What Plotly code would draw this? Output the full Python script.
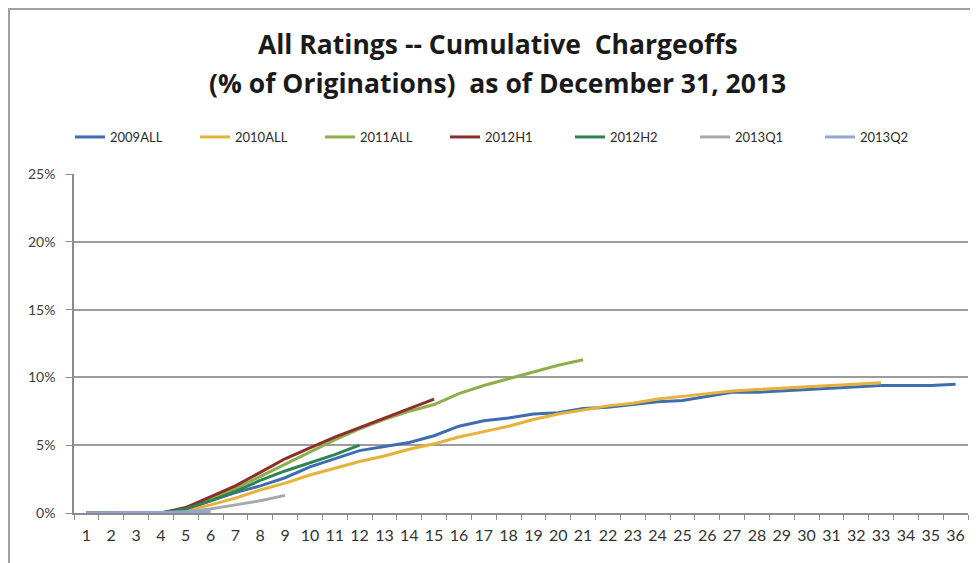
import plotly.graph_objects as go

months = [str(i) for i in range(1, 37)]

s2009ALL = [0, 0, 0, 0, 0.3, 0.9, 1.5, 2.0, 2.6, 3.4, 4.0, 4.6, 4.9, 5.2, 5.7, 6.4, 6.8, 7.0, 7.3, 7.4,
            7.7, 7.8, 8.0, 8.2, 8.3, 8.6, 8.9, 8.9, 9.0, 9.1, 9.2, 9.3, 9.4, 9.4, 9.4, 9.5]
s2010ALL = [0, 0, 0, 0, 0.2, 0.6, 1.1, 1.7, 2.2, 2.8, 3.3, 3.8, 4.2, 4.7, 5.1, 5.6, 6.0, 6.4, 6.9, 7.3,
            7.6, 7.9, 8.1, 8.4, 8.6, 8.8, 9.0, 9.1, 9.2, 9.3, 9.4, 9.5, 9.6]
s2011ALL = [0, 0, 0, 0, 0.3, 1.0, 1.8, 2.7, 3.6, 4.5, 5.4, 6.2, 6.9, 7.5, 8.0, 8.8, 9.4, 9.9, 10.4, 10.9, 11.3]
s2012H1 = [0, 0, 0, 0, 0.4, 1.2, 2.0, 3.0, 4.0, 4.8, 5.6, 6.3, 7.0, 7.7, 8.4]
s2012H2 = [0, 0, 0, 0, 0.3, 0.9, 1.6, 2.4, 3.1, 3.7, 4.3, 5.0]
s2013Q1 = [0, 0, 0, 0, 0.1, 0.3, 0.6, 0.9, 1.3]
s2013Q2 = [0, 0, 0, 0, 0.05, 0.1]

series = [
    ("2009ALL", s2009ALL, "#3F6DAE"),
    ("2010ALL", s2010ALL, "#E8B23A"),
    ("2011ALL", s2011ALL, "#8EAE4E"),
    ("2012H1", s2012H1, "#8C2E2A"),
    ("2012H2", s2012H2, "#2E8352"),
    ("2013Q1", s2013Q1, "#A8A8A8"),
    ("2013Q2", s2013Q2, "#8FA6D6"),
]

fig = go.Figure()
for name, vals, color in series:
    fig.add_trace(go.Scatter(
        x=months[:len(vals)], y=[v / 100 for v in vals], name=name, mode="lines",
        line=dict(color=color, width=3),
    ))

font_family = "Lato, 'Open Sans', sans-serif"
title_family = "'Open Sans', Lato, sans-serif"

L, R, T, B = 66, 18, 166, 58
PW, PH = 978 - L - R, 563 - T - B

fig.update_layout(
    width=978, height=563,
    margin=dict(l=L, r=R, t=T, b=B),
    paper_bgcolor="white", plot_bgcolor="white",
    font=dict(family=font_family, color="#404040"),
    showlegend=True,
    legend=dict(orientation="h", x=(62 - L) / PW, xanchor="left", y=1 + (T - 129) / PH, yanchor="middle",
                font=dict(size=13, color="#2b2b2b", family=font_family),
                entrywidth=80, entrywidthmode="pixels", itemwidth=30,
                bgcolor="rgba(0,0,0,0)"),
    xaxis=dict(type="category", categoryorder="array", categoryarray=months,
               range=[-0.5, 35.5], tickson="boundaries", ticks="outside", ticklen=5,
               tickcolor="#8c8c8c", showline=True, linecolor="#8c8c8c", linewidth=1.5,
               showgrid=False, tickangle=0, ticklabelstandoff=7,
               tickfont=dict(size=16, color="#333333"), fixedrange=True),
    yaxis=dict(range=[0, 0.25], tickvals=[0, 0.05, 0.10, 0.15, 0.20, 0.25],
               tickformat=".0%", ticks="outside", ticklen=6, tickcolor="#8c8c8c",
               showline=True, linecolor="#8c8c8c", linewidth=1.5,
               showgrid=True, gridcolor="#9c9c9c", gridwidth=1.5, zeroline=False,
               ticklabelstandoff=8,
               tickfont=dict(size=14, color="#404040"), fixedrange=True),
    annotations=[
        dict(text="<b>All Ratings -- Cumulative  Chargeoffs</b>", xref="paper", yref="paper",
             x=0.474, y=1.0 + (T - 36) / PH, xanchor="center", yanchor="middle",
             showarrow=False, font=dict(size=26.5, color="#1a1a1a", family=title_family)),
        dict(text="<b>(% of Originations)  as of December 31, 2013</b>", xref="paper", yref="paper",
             x=0.474, y=1.0 + (T - 75) / PH, xanchor="center", yanchor="middle",
             showarrow=False, font=dict(size=26.5, color="#1a1a1a", family=title_family)),
    ],
    shapes=[
        dict(type="rect", xref="paper", yref="paper",
             x0=(1 - L) / PW, x1=(1000 - L) / PW,
             y0=-(600 - (T + PH)) / PH, y1=1 + (T - 1) / PH,
             line=dict(color="#a0a0a0", width=2), fillcolor="rgba(0,0,0,0)", layer="below"),
    ],
)

fig.write_html("out.html")
